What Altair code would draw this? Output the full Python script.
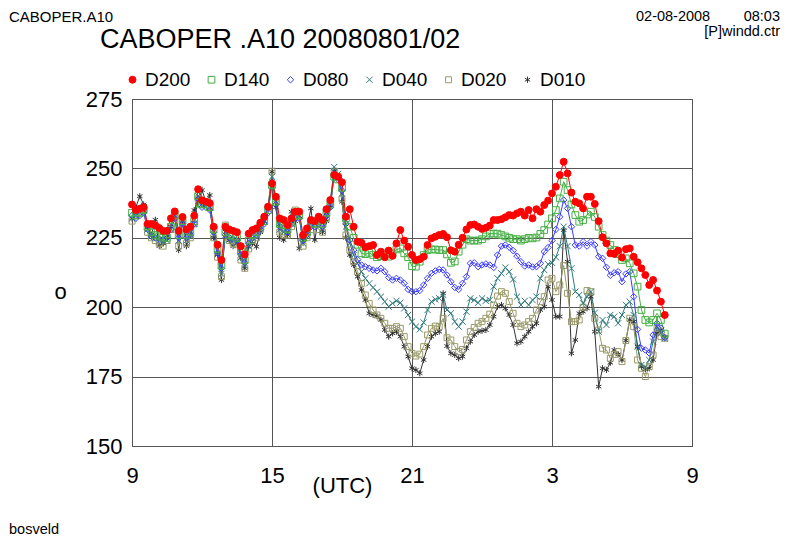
import altair as alt
import pandas as pd

START_HOUR = 9
STEP_MIN = 10

series_names = ["D200", "D140", "D080", "D040", "D020", "D010"]

D200 = [
    237, 235, 235.5, 236, 230, 230, 229.5, 228.5, 227.5, 227.5,
    232, 234.5, 227.5, 232.5, 228, 229, 233, 242.5, 238.5, 238,
    237.5, 229, 222.5, 217, 229, 228, 227.5, 227, 222, 219,
    226.5, 227.8, 228.4, 230.4, 232.6, 236.2, 244.6, 239.8, 232, 231.4,
    229.6, 232, 234.4, 234.4, 226, 228.4, 231.4, 231, 232.6, 231.4,
    235.3, 238.6, 247.6, 247, 245, 232.6, 235.3, 229, 223.6, 223.2,
    221.6, 222, 222.4, 218.8, 220, 218, 220.4, 218.5, 223, 227.8,
    224, 221.8, 218.8, 217, 217.3, 218.2, 222.4, 224.8, 225.4, 226,
    226.4, 225.2, 220.5, 220, 222.5, 225, 228, 229.6, 229.8, 229,
    228.2, 228.6, 229.4, 231.4, 231.4, 231.7, 232.4, 233.2, 233, 233.8,
    234.4, 233, 235, 232, 235.3, 234.4, 236.8, 238.4, 241, 243.4,
    247.6, 252.4, 248.2, 241.3, 238, 237.4, 235.6, 239.8, 239.8, 237.2,
    231, 225.2, 223, 219.4, 219.2, 220.4, 217.9, 220.9, 221.2, 218.2,
    216.2, 214, 211.6, 208, 209.8, 206, 202, 197.2]

D140 = [
    234, 233, 234, 235, 229, 227, 226, 225.5, 225, 225,
    229, 233, 226, 231, 226, 227, 231, 240, 237, 237,
    236, 228, 221, 215, 227, 226, 225.5, 225, 220, 217,
    224, 226, 227, 229, 231, 235, 244, 238, 230, 229.5,
    228, 230.5, 233, 233, 225, 227, 230, 230, 231, 230,
    234, 237, 247, 246, 243, 232, 229, 225, 222.5, 219.4,
    219.1, 219.6, 218.8, 218, 218.4, 219.4, 218.2, 219.4, 220.8, 221.2,
    219.4, 218, 214.8, 214.6, 216.4, 218.8, 220.6, 220.8, 220.8, 220.6,
    220.6, 219, 216, 216.5, 220, 222.5, 224.5, 224, 224, 224,
    224.5, 225.5, 226.5, 226.5, 226.5, 226, 225.5, 225, 224.5, 224.5,
    224, 224.5, 225, 224.8, 225.1, 226.4, 227.8, 229.8, 232, 235,
    239.2, 245.2, 242.2, 237, 233.2, 230.8, 231.4, 233.4, 234.4, 232.5,
    229, 226, 224, 222.4, 220.6, 219.1, 217, 217.6, 215.8, 212.2,
    207.4, 199, 195.4, 194.5, 195.4, 197.8, 195.4, 190.5]

D080 = [
    233, 232, 233, 234, 228, 225.5, 225, 224.5, 224.5, 225,
    228, 232, 225, 230, 225, 226, 230, 239, 236, 236,
    235, 227, 219.5, 214, 226, 225, 224.5, 224, 219, 216,
    223, 225, 226, 228, 230, 234, 245, 237, 229, 228.5,
    227, 230, 232, 232, 224, 226, 229, 229, 230, 229,
    233, 236, 248, 246, 242, 230, 224.2, 220.6, 217.2, 215.2,
    214.6, 214, 213.4, 213.1, 214, 212.8, 210.7, 209.8, 210.4, 209.8,
    208.6, 206.4, 205.6, 205.6, 206, 208, 210.4, 212.2, 213.1, 213.6,
    213.4, 211.6, 209.2, 207.1, 206.4, 208.6, 211, 215.8, 216, 214.6,
    215.2, 215.6, 215.2, 214.3, 218.8, 222, 222.4, 221.6, 220.4, 218.4,
    216.4, 214.8, 215.2, 214.5, 214.6, 215.8, 220, 221.5, 224, 228,
    232.6, 238.6, 235.6, 229, 222.4, 222, 223.6, 222, 223.6, 222.4,
    218.2, 217.6, 214.4, 211.5, 212.4, 212.8, 209.2, 212, 212.8, 203.8,
    192, 185.2, 184.6, 183.5, 190, 194.2, 192.5, 189]

D040 = [
    232, 233, 235, 236, 228, 226, 225, 224, 223.5, 224,
    228, 233, 224, 230, 224, 226, 230, 240, 237, 237.5,
    236, 226, 219, 212, 226, 224.5, 224, 223.5, 218, 215,
    222, 225, 226, 228.5, 231, 236, 247, 238, 228, 227,
    227, 230, 234, 233, 223, 226, 229, 230, 229, 228,
    233, 238, 250.5, 248, 241, 229, 223, 218.8, 215.8, 212.8,
    210.4, 208.6, 207.1, 205.6, 203.8, 202, 200.2, 201.4, 202.3, 201.6,
    199.6, 197.2, 194.8, 193, 192, 194.5, 199, 202, 202.8, 203.2,
    204.5, 199, 197.8, 194.8, 193, 194.8, 198.4, 203.2, 202.6, 201.6,
    203.2, 202.3, 202.6, 207.4, 210.4, 212.2, 214.3, 212.8, 210, 203.8,
    200.8, 202.3, 200.8, 202.6, 203.8, 210.4, 213.4, 215.5, 216, 218,
    222, 229, 222, 214, 205.6, 204.4, 201.4, 203.8, 205.6, 198,
    191.2, 195.4, 193.6, 197.2, 196.6, 194.2, 197.2, 200.8, 202, 197.2,
    185.8, 179.2, 178.4, 181, 187.6, 193, 190.6, 188.8]

D020 = [
    231, 233, 234, 235, 227, 225, 224, 223, 222, 224,
    228, 232, 222, 230, 223, 225, 230, 239, 237, 238,
    236, 225, 218, 211, 229.6, 224, 223, 222.5, 217, 214,
    221, 224, 225, 228, 231, 236, 249, 239, 227, 226,
    226, 229, 235, 233, 222, 225, 228, 231, 228, 227,
    232, 238, 249, 247, 239, 226, 220.6, 216.4, 212.8, 208.6,
    204.4, 201.4, 199, 197.2, 196, 194.2, 192.4, 192.4, 193, 192.4,
    189.4, 185.8, 183.4, 182.4, 183.1, 185.8, 190, 192.4, 193.2, 193,
    196, 189, 188.2, 185.8, 184, 184.8, 188.2, 191.2, 192.7, 194.2,
    194.8, 196, 197.5, 200.8, 204, 205.6, 205, 202, 197.8, 194.2,
    193, 193.6, 194.8, 196, 199, 202, 203.8, 209.8, 210.4, 205.6,
    208, 215, 205, 194.8, 194.8, 195.4, 200, 206, 205.6, 196,
    191.8, 185.2, 184.6, 181.6, 183, 184, 180.4, 188, 196, 193,
    181, 178, 175, 178.6, 182.8, 192.4, 189.4, 188.8]

D010 = [
    232, 236, 240, 237, 229, 226, 231.5, 222, 223, 225.2,
    229, 234, 220.6, 231, 222, 226, 235, 238, 242.2, 238,
    240.4, 225, 219, 209.8, 228, 224, 222, 223, 217.7, 214,
    221.8, 223, 221.8, 227, 231, 236, 248.8, 236, 225, 224.2,
    226, 234.4, 231, 221.2, 224, 228, 235.6, 224.2, 232, 227,
    231, 236, 249, 247, 238, 225, 218.8, 215.2, 211, 206.2,
    202.6, 197.8, 197.2, 196.8, 195.4, 191.8, 189.4, 190.6, 191.2, 189.4,
    185.8, 182.2, 178, 177.4, 176.2, 181, 185.8, 189.4, 190.6, 191.2,
    205, 186, 183.4, 182.8, 181.6, 182.2, 185.2, 187.6, 190, 191.2,
    191.5, 191.8, 193.6, 196.6, 200.2, 200.8, 199.6, 197.2, 193.6, 187,
    187.6, 189.4, 191.2, 193, 194.2, 199, 200.2, 207.4, 202.6, 196.6,
    196.6, 227.8, 216.4, 183.4, 188.2, 197.8, 198.4, 199.6, 203.8, 191.2,
    171.4, 178, 177.4, 180, 184.6, 183, 181, 188, 195.4, 194.8,
    185.8, 178.6, 177.6, 178, 181, 190.6, 191.8, 189.2]

series_values = {"D200": D200, "D140": D140, "D080": D080,
                 "D040": D040, "D020": D020, "D010": D010}

x_tick_values = [9, 15, 21, 27, 33]
y_tick_values = [150, 175, 200, 225, 250, 275]

colors = ["#ff0000", "#44b044", "#3a3aff", "#2f7a7a", "#9a9a6a", "#333333"]
fills = ["#ff0000", "transparent", "transparent", "transparent", "transparent", "transparent"]
shapes = ["circle", "square", "diamond",
          "M-1,-1L1,1M-1,1L1,-1", "square",
          "M0,-1.1L0,1.1M-0.95,-0.55L0.95,0.55M-0.95,0.55L0.95,-0.55"]
sizes = [48, 32, 42, 40, 62, 42]

rows = []
for name in reversed(series_names):  # D200 drawn last (on top)
    for i, v in enumerate(series_values[name]):
        rows.append({"series": name,
                     "t": START_HOUR + i * STEP_MIN / 60.0,
                     "value": v})
df = pd.DataFrame(rows)

FONT = "Liberation Sans"

x_enc = alt.X("t:Q",
              scale=alt.Scale(domain=[9, 33], nice=False, zero=False),
              axis=alt.Axis(values=x_tick_values,
                            labelExpr="'' + (datum.value % 24)",
                            title="(UTC)", titleFontWeight="normal",
                            titleFontSize=22, titleFont=FONT,
                            titleX=210, titleY=46, titleBaseline="alphabetic",
                            titleAlign="center",
                            labelFontSize=22, labelFont=FONT, labelColor="#000",
                            labelPadding=19, ticks=False, domain=False,
                            grid=True, gridColor="#555555", gridWidth=1,
                            gridOpacity=1, labelFlush=False))
y_enc = alt.Y("value:Q",
              scale=alt.Scale(domain=[150, 275], nice=False, zero=False),
              axis=alt.Axis(values=y_tick_values, title="o",
                            titleAngle=0, titleFontWeight="normal",
                            titleFontSize=22, titleFont=FONT,
                            titleX=-72, titleY=199, titleBaseline="alphabetic",
                            titleAlign="center",
                            labelFontSize=22, labelFont=FONT, labelColor="#000",
                            labelPadding=10, ticks=False, domain=False,
                            grid=True, gridColor="#555555", gridWidth=1,
                            gridOpacity=1, labelFlush=False))

legend = alt.Legend(orient="none", legendX=-9, legendY=-29,
                    direction="horizontal", columns=6, title=None,
                    labelFont=FONT, labelFontSize=19, labelColor="#000",
                    labelOffset=3, columnPadding=11, padding=0,
                    symbolStrokeWidth=1)

color_scale = alt.Scale(domain=series_names, range=colors)

lines = alt.Chart(df).mark_line(strokeWidth=1).encode(
    x=x_enc, y=y_enc,
    color=alt.Color("series:N", scale=color_scale, legend=legend),
    detail="series:N",
)

points = alt.Chart(df).mark_point(strokeWidth=1, opacity=1).encode(
    x="t:Q", y="value:Q",
    color=alt.Color("series:N", scale=color_scale, legend=legend),
    fill=alt.Fill("series:N", scale=alt.Scale(domain=series_names, range=fills), legend=legend),
    shape=alt.Shape("series:N", scale=alt.Scale(domain=series_names, range=shapes), legend=legend),
    size=alt.Size("series:N", scale=alt.Scale(domain=series_names, range=sizes), legend=legend),
)


def label(text, x, y, size=14.5, align="left"):
    return alt.Chart(pd.DataFrame({"txt": [text]})).mark_text(
        font=FONT, fontSize=size, align=align, baseline="middle", color="#000"
    ).encode(text="txt:N", x=alt.value(x), y=alt.value(y))


texts = [
    label("CABOPER.A10", -123, -82, size=15),
    label("02-08-2008", 504, -82),
    label("08:03", 648, -82, align="right"),
    label("[P]windd.ctr", 648, -67, align="right"),
    label("CABOPER .A10 20080801/02", -32, -59, size=27),
    label("bosveld", -123, 431),
]

chart = alt.layer(lines, points, *texts).properties(
    width=560, height=347,
    padding={"left": 124, "top": 91, "right": 90, "bottom": 91},
    autosize=alt.AutoSizeParams(type="none"),
).configure_view(stroke="#444444", strokeWidth=1)

chart.save("out.html", embed_options={"renderer": "svg", "actions": False})
